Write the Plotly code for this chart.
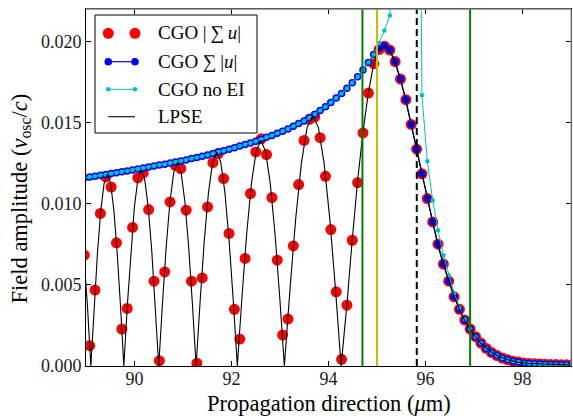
import plotly.graph_objects as go

# CGO sample positions along the propagation direction (um)
x_cgo = [
    88.965, 89.076, 89.186, 89.297, 89.407, 89.518, 89.628, 89.739, 89.849, 89.960,
    90.070, 90.181, 90.291, 90.402, 90.512, 90.623, 90.733, 90.844, 90.954, 91.065,
    91.175, 91.286, 91.396, 91.507, 91.617, 91.728, 91.838, 91.949, 92.059, 92.170,
    92.280, 92.391, 92.501, 92.612, 92.722, 92.833, 92.943, 93.054, 93.164, 93.275,
    93.385, 93.496, 93.606, 93.717, 93.827, 93.938, 94.048, 94.159, 94.269, 94.380,
    94.490, 94.601, 94.711, 94.822, 94.932, 95.043, 95.153, 95.264, 95.374, 95.485,
    95.595, 95.706, 95.816, 95.927, 96.037, 96.148, 96.258, 96.369, 96.479, 96.590,
    96.700, 96.811, 96.921, 97.032, 97.142, 97.253, 97.363, 97.474, 97.584, 97.695,
    97.805, 97.916, 98.026, 98.137, 98.247, 98.358, 98.468, 98.579, 98.689, 98.800,
    98.910, 99.021,
]

# CGO |sum u| : coherent sum of the ray fields
cgo_coherent = [
    0.00683, 0.00125, 0.00468, 0.00940, 0.01165, 0.01103, 0.00759, 0.00228, 0.00355, 0.00854,
    0.01159, 0.01190, 0.00964, 0.00523, 0.00033, 0.00580, 0.01011, 0.01237, 0.01217, 0.00960,
    0.00523, 0.00017, 0.00543, 0.00980, 0.01253, 0.01309, 0.01155, 0.00817, 0.00349, 0.00166,
    0.00663, 0.01063, 0.01319, 0.01400, 0.01303, 0.01038, 0.00652, 0.00191, 0.00289, 0.00740,
    0.01118, 0.01390, 0.01520, 0.01535, 0.01407, 0.01169, 0.00841, 0.00457, 0.00041, 0.00375,
    0.00775, 0.01130, 0.01436, 0.01682, 0.01863, 0.01950, 0.01971, 0.01947, 0.01876, 0.01768,
    0.01641, 0.01489, 0.01336, 0.01184, 0.01032, 0.00888, 0.00751, 0.00628, 0.00523, 0.00426,
    0.00349, 0.00283, 0.00228, 0.00181, 0.00141, 0.00108, 0.00083, 0.00064, 0.00049, 0.00038,
    0.00030, 0.00024, 0.00019, 0.00016, 0.00014, 0.00012, 0.00011, 0.00010, 0.00009, 0.00008,
    0.00008, 0.00007,
]

# CGO sum |u| : incoherent sum of the ray fields
cgo_incoherent = [
    0.01158, 0.01164, 0.01169, 0.01175, 0.01180, 0.01186, 0.01191, 0.01197, 0.01202, 0.01208,
    0.01214, 0.01220, 0.01226, 0.01232, 0.01238, 0.01244, 0.01251, 0.01257, 0.01263, 0.01270,
    0.01278, 0.01285, 0.01293, 0.01301, 0.01309, 0.01318, 0.01327, 0.01336, 0.01345, 0.01355,
    0.01365, 0.01375, 0.01385, 0.01397, 0.01409, 0.01421, 0.01434, 0.01447, 0.01461, 0.01477,
    0.01494, 0.01510, 0.01530, 0.01551, 0.01574, 0.01598, 0.01624, 0.01651, 0.01680, 0.01711,
    0.01745, 0.01782, 0.01824, 0.01871, 0.01920, 0.01958, 0.01972, 0.01947, 0.01876, 0.01768,
    0.01641, 0.01489, 0.01336, 0.01184, 0.01032, 0.00888, 0.00751, 0.00628, 0.00523, 0.00426,
    0.00349, 0.00283, 0.00228, 0.00181, 0.00141, 0.00108, 0.00083, 0.00064, 0.00049, 0.00038,
    0.00030, 0.00024, 0.00019, 0.00016, 0.00014, 0.00012, 0.00011, 0.00010, 0.00009, 0.00008,
    0.00008, 0.00007,
]

# CGO without the EI treatment: singular at the caustic
cgo_no_ei = [
    0.01158, 0.01164, 0.01169, 0.01175, 0.01180, 0.01186, 0.01191, 0.01197, 0.01202, 0.01208,
    0.01214, 0.01220, 0.01226, 0.01232, 0.01238, 0.01244, 0.01251, 0.01257, 0.01263, 0.01270,
    0.01278, 0.01285, 0.01293, 0.01301, 0.01309, 0.01318, 0.01327, 0.01336, 0.01345, 0.01355,
    0.01365, 0.01375, 0.01385, 0.01397, 0.01409, 0.01421, 0.01434, 0.01447, 0.01461, 0.01477,
    0.01494, 0.01510, 0.01530, 0.01551, 0.01574, 0.01598, 0.01624, 0.01651, 0.01680, 0.01711,
    0.01745, 0.01782, 0.01824, 0.01871, 0.01920, 0.01990, 0.02068, 0.02160, 0.02550, 0.03000,
    0.03600, 0.04600, 0.06000, 0.01668, 0.01262, 0.01022, 0.00837, 0.00683, 0.00560, 0.00450,
    0.00358, 0.00287, 0.00228, 0.00181, 0.00141, 0.00108, 0.00083, 0.00064, 0.00049, 0.00038,
    0.00030, 0.00024, 0.00019, 0.00016, 0.00014, 0.00012, 0.00011, 0.00010, 0.00009, 0.00008,
    0.00008, 0.00007,
]

# LPSE field amplitude
x_lpse = [
    88.76, 88.83, 88.90, 88.97, 89.03, 89.10,
    89.168, 89.236, 89.304, 89.372, 89.44, 89.508, 89.576, 89.644, 89.712, 89.78,
    89.852, 89.924, 89.996, 90.068, 90.14, 90.212, 90.284, 90.356, 90.428, 90.50,
    90.577, 90.654, 90.731, 90.808, 90.885, 90.962, 91.039, 91.116, 91.193, 91.27,
    91.355, 91.44, 91.525, 91.61, 91.695, 91.78, 91.865, 91.95, 92.035, 92.12,
    92.217, 92.314, 92.411, 92.508, 92.605, 92.702, 92.799, 92.896, 92.993, 93.09,
    93.207, 93.324, 93.441, 93.558, 93.675, 93.792, 93.909, 94.026, 94.143, 94.26,
    94.32, 94.38, 94.49, 94.60, 94.71, 94.82, 94.93, 95.04, 95.16, 95.27, 95.37,
    95.48, 95.59, 95.70, 95.81, 95.92, 96.03, 96.14, 96.25, 96.36, 96.48, 96.59,
    96.70, 96.81, 96.92, 97.03, 97.14, 97.25, 97.36, 97.50, 97.70, 97.90, 98.10,
    98.40, 98.70, 99.00,
]
lpse = [
    0.01160, 0.01100, 0.00925, 0.00656, 0.00369, 0.0,
    0.00365, 0.00695, 0.00956, 0.01124, 0.01182, 0.01124, 0.00956, 0.00695, 0.00365, 0.0,
    0.00373, 0.00709, 0.00976, 0.01147, 0.01206, 0.01147, 0.00976, 0.00709, 0.00373, 0.0,
    0.00387, 0.00736, 0.01012, 0.01190, 0.01251, 0.01190, 0.01012, 0.00736, 0.00387, 0.0,
    0.00408, 0.00776, 0.01067, 0.01254, 0.01319, 0.01254, 0.01067, 0.00776, 0.00408, 0.0,
    0.00430, 0.00818, 0.01125, 0.01323, 0.01391, 0.01323, 0.01125, 0.00818, 0.00430, 0.0,
    0.00477, 0.00908, 0.01250, 0.01469, 0.01545, 0.01469, 0.01250, 0.00908, 0.00477, 0.0,
    0.00190, 0.00380, 0.00780, 0.01140, 0.01440, 0.01680, 0.01860, 0.01950, 0.01970, 0.01940, 0.01870,
    0.01770, 0.01640, 0.01490, 0.01340, 0.01180, 0.01030, 0.00890, 0.00750, 0.00630, 0.00520, 0.00430,
    0.00350, 0.00280, 0.00230, 0.00180, 0.00140, 0.00110, 0.00085, 0.00060, 0.00038, 0.00024, 0.00017,
    0.00012, 0.00009, 0.00007,
]

# Reference positions (um)
vline_green = [94.70, 96.92]
vline_yellow = [95.00]
vline_dashed = [95.82]

x_ticks = [90, 92, 94, 96, 98]
y_ticks = [0.000, 0.005, 0.010, 0.015, 0.020]

FONT = "Liberation Serif"
W, H = 573, 416
L, R, T, B = 86, 571, 9, 366  # plot area in pixels


def px(xp):
    return (xp - L) / (R - L)


def py(yp):
    return (B - yp) / (B - T)


fig = go.Figure()
fig.add_trace(go.Scatter(
    x=x_cgo, y=cgo_coherent, mode="markers",
    marker=dict(color="#ff0000", size=11, line=dict(width=0)),
    showlegend=False))
fig.add_trace(go.Scatter(
    x=x_cgo, y=cgo_incoherent, mode="lines+markers",
    line=dict(color="#0000ff", width=1.2),
    marker=dict(color="#0000ff", size=7.5, line=dict(width=0)),
    showlegend=False))
fig.add_trace(go.Scatter(
    x=x_cgo, y=cgo_no_ei, mode="lines+markers",
    line=dict(color="#00bfbf", width=1),
    marker=dict(color="#00bfbf", size=4.5, line=dict(width=0)),
    showlegend=False))
fig.add_trace(go.Scatter(
    x=x_lpse, y=lpse, mode="lines",
    line=dict(color="#000000", width=1.1),
    showlegend=False))

shapes = []
for xv in vline_green:
    shapes.append(dict(type="line", xref="x", yref="paper", x0=xv, x1=xv, y0=0, y1=1,
                       line=dict(color="#008000", width=2), layer="above"))
for xv in vline_yellow:
    shapes.append(dict(type="line", xref="x", yref="paper", x0=xv, x1=xv, y0=0, y1=1,
                       line=dict(color="#c8be00", width=2), layer="above"))
for xv in vline_dashed:
    shapes.append(dict(type="line", xref="x", yref="paper", x0=xv, x1=xv, y0=0, y1=1,
                       line=dict(color="#000000", width=2, dash="7px,4px"), layer="above"))

# top and right frame lines
shapes.append(dict(type="line", xref="paper", yref="paper", x0=0, x1=1, y0=1, y1=1,
                   line=dict(color="#808080", width=1.5), layer="above"))
shapes.append(dict(type="line", xref="paper", yref="paper", x0=1, x1=1, y0=0, y1=1,
                   line=dict(color="#a0a0a0", width=1.2), layer="above"))

# legend box
shapes.append(dict(type="rect", xref="paper", yref="paper",
                   x0=px(95), x1=px(257), y0=py(133), y1=py(15),
                   fillcolor="white", line=dict(color="black", width=1), layer="above"))

rows = [33.3, 61.7, 89.3, 116.7]
sx0, sx1 = 108.3, 135.0


def dot(xp, yp, r, color):
    return dict(type="circle", xref="paper", yref="paper",
                xsizemode="pixel", ysizemode="pixel",
                xanchor=px(xp), yanchor=py(yp), x0=-r, x1=r, y0=-r, y1=r,
                fillcolor=color, line=dict(width=0), layer="above")


def seg(yp, color, width):
    return dict(type="line", xref="paper", yref="paper",
                x0=px(sx0), x1=px(sx1), y0=py(yp), y1=py(yp),
                line=dict(color=color, width=width), layer="above")


shapes += [dot(sx0, rows[0], 5.5, "#ff0000"), dot(sx1, rows[0], 5.5, "#ff0000")]
shapes += [seg(rows[1], "#0000ff", 1.2), dot(sx0, rows[1], 3.8, "#0000ff"), dot(sx1, rows[1], 3.8, "#0000ff")]
shapes += [seg(rows[2], "#00bfbf", 1), dot(sx0, rows[2], 2.3, "#00bfbf"), dot(sx1, rows[2], 2.3, "#00bfbf")]
shapes += [seg(rows[3], "#000000", 1.1)]

labels = ["CGO |\u2009\u2211\u2009<i>u</i>|", "CGO \u2211\u2009|<i>u</i>|", "CGO no EI", "LPSE"]
annotations = []
for yp, text in zip(rows, labels):
    annotations.append(dict(x=px(156), y=py(yp), xref="paper", yref="paper",
                            xanchor="left", yanchor="middle", text=text, showarrow=False,
                            font=dict(family=FONT, size=19, color="#000")))

annotations.append(dict(x=px(328.5), y=py(403), xref="paper", yref="paper",
                        xanchor="center", yanchor="middle",
                        text="Propagation direction (<i>\u03bc</i>m)", showarrow=False,
                        font=dict(family=FONT, size=22.5, color="#000")))
annotations.append(dict(x=px(20), y=py(198.5), xref="paper", yref="paper",
                        xanchor="center", yanchor="middle", textangle=-90,
                        text="Field amplitude (<i>v</i><sub>osc</sub>/<i>c</i>)", showarrow=False,
                        font=dict(family=FONT, size=22.5, color="#000")))

axis_common = dict(ticks="inside", ticklen=5, tickwidth=1, tickcolor="black",
                   showline=True, linecolor="black", linewidth=1, mirror="ticks",
                   showgrid=False, zeroline=False,
                   tickfont=dict(family=FONT, size=18, color="#1a1a1a"))

fig.update_layout(
    width=W, height=H,
    margin=dict(l=L, r=W - R, t=T, b=H - B),
    plot_bgcolor="white", paper_bgcolor="white",
    font=dict(family=FONT, size=18, color="#000"),
    xaxis=dict(range=[89, 99], tickvals=x_ticks, ticktext=[str(v) for v in x_ticks],
               ticklabelstandoff=-4, **axis_common),
    yaxis=dict(range=[0, 0.022], tickvals=y_ticks, tickformat=".3f", **axis_common),
    shapes=shapes, annotations=annotations,
)

fig.write_html("out.html")
